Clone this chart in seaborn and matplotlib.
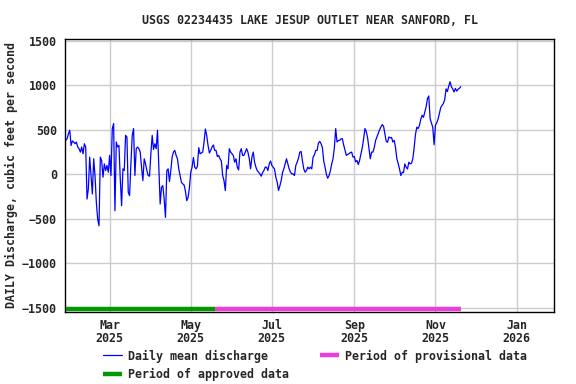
import numpy as np
import pandas as pd
import seaborn as sns
import matplotlib
matplotlib.use("Agg")
import matplotlib.pyplot as plt
import matplotlib.dates as mdates

# %%
title = "USGS 02234435 LAKE JESUP OUTLET NEAR SANFORD, FL"
ylabel = "DAILY Discharge, cubic feet per second"
start_date = "2025-01-27"

# daily mean discharge, cfs, starting 2025-01-27
discharge = [
    382, 400, 457, 495, 325, 375, 363, 344, 363, 307,
    288, 250, 307, 231, 344, 307, -277, -163, 194, -13,
    -220, 175, -13, -314, -502, -577, 194, 156, -32, 118,
    43, 100, 24, 213, -13, 514, 570, -408, 363, 307,
    325, -51, -352, 62, 43, 438, 420, -201, -239, 120,
    438, 514, -13, 288, 307, 288, 250, 81, -70, 175,
    118, 43, -13, -20, 231, 438, 280, 344, 288, 495,
    81, -333, -145, -126, -277, -483, 43, 62, -80, 43,
    194, 250, 269, 213, 175, 60, -13, -90, -107, -119,
    -190, -295, -258, -150, 24, 81, 190, 81, 62, 90,
    300, 231, 240, 250, 363, 510, 438, 325, 240, 269,
    307, 330, 269, 269, 200, 213, 175, 150, -13, -70,
    -182, 100, 62, 288, 250, 231, 213, 137, 175, 81,
    50, 250, 288, 213, 213, 250, 288, 250, 175, 62,
    194, 250, 137, 81, 43, 24, 6, -20, 20, 43,
    81, 81, 43, 118, 150, 100, 81, 60, -32, -88,
    -180, -130, -70, 20, 62, 118, 175, 118, 62, 24,
    6, 6, -13, 100, 137, 180, 250, 257, 150, 62,
    24, 43, 81, 62, 81, 62, 194, 220, 269, 269,
    350, 370, 344, 300, 150, 81, 0, -43, -13, 40,
    118, 175, 300, 514, 363, 380, 382, 400, 400, 330,
    269, 213, 225, 231, 245, 250, 194, 200, 140, 156,
    110, 160, 231, 300, 400, 514, 480, 410, 288, 175,
    250, 250, 300, 380, 420, 460, 500, 532, 559, 540,
    457, 370, 360, 420, 410, 415, 363, 382, 300, 175,
    120, 60, -13, 24, 20, 118, 81, 60, 137, 118,
    125, 175, 300, 450, 530, 514, 550, 620, 664, 640,
    700, 758, 850, 880, 627, 575, 530, 333, 551, 580,
    620, 683, 750, 775, 796, 840, 960, 930, 990, 1040,
    984, 960, 925, 965, 935, 955, 965, 984,
]

approved_period = ["2025-01-27", "2025-05-19"]
provisional_period = ["2025-05-19", "2025-11-20"]

yticks = [-1500, -1000, -500, 0, 500, 1000, 1500]

# %%
df = pd.DataFrame({
    "date": pd.date_range(start_date, periods=len(discharge), freq="D"),
    "discharge": discharge,
})

sns.set_style("white")
plt.rcParams["font.family"] = ["DejaVu Sans Mono"]
plt.rcParams["font.weight"] = "bold"
plt.rcParams["axes.titleweight"] = "bold"
plt.rcParams["axes.labelweight"] = "bold"
plt.rcParams["font.size"] = 8.4

fig = plt.figure(figsize=(5.76, 3.84), dpi=100)
ax = fig.add_axes([0.113, 0.1875, 0.849, 0.711])

sns.lineplot(data=df, x="date", y="discharge", ax=ax, color="#0000FF",
             linewidth=0.9, label="Daily mean discharge")

bar_y = -1515
ax.plot(pd.to_datetime(approved_period), [bar_y, bar_y], color="#009900",
        linewidth=3.2, solid_capstyle="butt", label="Period of approved data",
        clip_on=False, zorder=4)
ax.plot(pd.to_datetime(provisional_period), [bar_y, bar_y], color="#F03CDC",
        linewidth=3.2, solid_capstyle="butt", label="Period of provisional data",
        clip_on=False, zorder=4)

ax.set_xlim(pd.Timestamp("2025-01-26 12:00"), pd.Timestamp("2026-01-29 06:00"))
ax.set_ylim(-1545, 1520)
ax.set_yticks(yticks)
ax.xaxis.set_major_locator(mdates.MonthLocator(bymonth=[1, 3, 5, 7, 9, 11]))
ax.xaxis.set_major_formatter(mdates.DateFormatter("%b\n%Y"))

ax.grid(True, color="#CCCCCC", linewidth=1)
ax.tick_params(axis="y", length=0, pad=6, labelsize=8.4)
ax.tick_params(axis="x", length=0, pad=5, labelsize=8.4)
for t in ax.get_xticklabels():
    t.set_linespacing(1.05)
for s in ax.spines.values():
    s.set_color("black")
    s.set_linewidth(1)

ax.set_xlabel("")
ax.set_ylabel(ylabel, labelpad=3, fontsize=8.4, fontweight="bold")
ax.set_title(title, pad=11, fontsize=8.4, fontweight="bold")

ax.get_legend().remove()
handles, labels = ax.get_legend_handles_labels()
fig.legend(handles, labels, loc="upper center", bbox_to_anchor=(0.547, 0.09),
           ncol=2, frameon=False, handlelength=1.6, handletextpad=0.5,
           columnspacing=2.7, labelspacing=0.45, borderpad=0, borderaxespad=0,
           prop={"size": 8.4, "weight": "bold"})

fig.savefig("out.png", dpi=100)
